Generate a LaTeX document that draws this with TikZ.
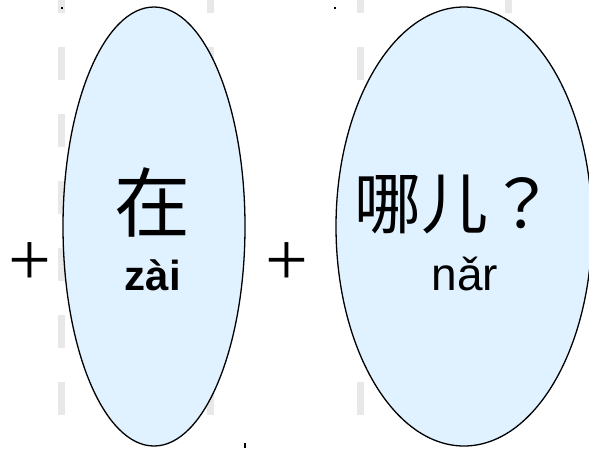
\documentclass[tikz,border=0pt]{standalone}
\usepackage{fontspec}
\setmainfont{Liberation Sans}
\newfontfamily\cjk{Noto Sans CJK JP}
\newfontfamily\plusfont{Liberation Serif}
\usetikzlibrary{shapes.geometric}

\definecolor{bubblefill}{RGB}{224,242,255}
\definecolor{guidegray}{RGB}{232,232,232}

\begin{document}
\begin{tikzpicture}[x=1pt,y=-1pt]
        \tikzstyle{every node}+=[inner sep=0pt]
        \tikzstyle{bubble}=[ellipse, draw=black, line width=1.3pt, fill=bubblefill]
        \tikzstyle{hanzi}=[anchor=base, font=\cjk]
        \tikzstyle{pinyin}=[anchor=base]
        \tikzstyle{plussign}=[anchor=base, font=\plusfont\fontsize{76}{76}\selectfont]
        \useasboundingbox (0,0) rectangle (589,448);
        % guide dashes behind the bubbles
        \foreach \gx in {61,210,360,508}
          \draw [guidegray, line width=7pt, dash pattern=on 33pt off 34pt] (\gx,-20) -- (\gx,470);
        \fill [black] (61,7) rectangle (63,9);
        \fill [black] (334,7) rectangle (336,9);
        \fill [black] (244,443) rectangle (246,448);
        % bubbles
        \node [bubble, minimum width=182pt, minimum height=439pt] (zai) at (154,226.5) {};
        \node [bubble, minimum width=256pt, minimum height=439pt] (naer) at (464,226.5) {};
        % texts
        \node [hanzi, font=\cjk\fontsize{76}{76}\selectfont] (zaichar) at (152,231) {在};
        \node [pinyin, font=\bfseries\fontsize{42}{42}\selectfont] (zaipy) at (153,290) {zài};
        \node [hanzi, font=\cjk\fontsize{67}{67}\selectfont] (naerchar) at (455,228) {哪儿？};
        \node [pinyin, font=\fontsize{46}{46}\selectfont] (naerpy) at (465,290) {nǎr};
        \node [plussign] (plusa) at (30,285) {+};
        \node [plussign] (plusb) at (287,285) {+};
\end{tikzpicture}
\end{document}
